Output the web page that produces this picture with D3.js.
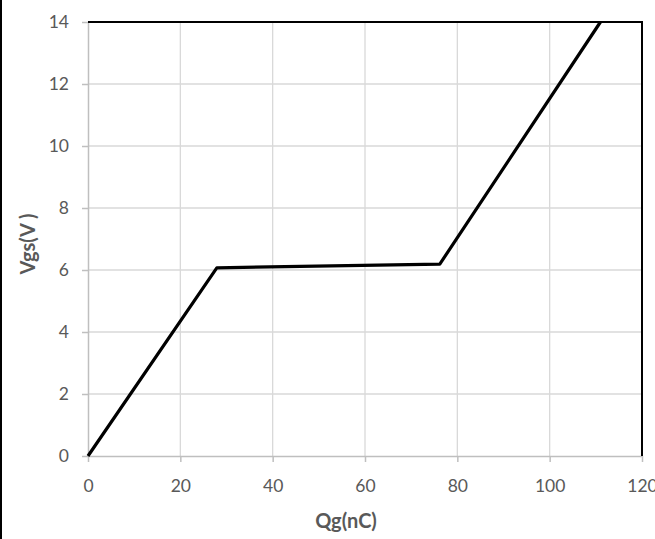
<!DOCTYPE html>
<html>
<head>
<meta charset="utf-8">
<script src="https://cdn.jsdelivr.net/npm/d3@7"></script>
<style>
  html, body { margin: 0; padding: 0; background: #fff; }
  svg { display: block; }
  text { font-family: Lato, "Open Sans", sans-serif; }
</style>
</head>
<body>
<svg id="chart" width="655" height="539"></svg>
<script>
// Gate charge curve: gate charge (nC) vs gate-source voltage (V)
const qg = [0, 27.9, 76.2, 111.0];
const vgs = [0, 6.07, 6.19, 14];
const xTicks = [0, 20, 40, 60, 80, 100, 120];
const yTicks = [0, 2, 4, 6, 8, 10, 12, 14];

const svg = d3.select("#chart");
const plotLeft = 88, plotRight = 642, plotTop = 22, plotBottom = 456;

const x = d3.scaleLinear().domain([0, 120]).range([plotLeft, plotRight]);
const y = d3.scaleLinear().domain([0, 14]).range([plotBottom, plotTop]);

// outer frame stroke on the left edge
svg.append("rect").attr("x", 0).attr("y", 0).attr("width", 2).attr("height", 539).attr("fill", "#000");

// gridlines
const grid = svg.append("g").attr("stroke", "#d9d9d9").attr("stroke-width", 1.3);
grid.selectAll("line.v").data(xTicks.slice(1)).join("line").attr("class", "v")
  .attr("x1", d => x(d)).attr("x2", d => x(d)).attr("y1", plotTop).attr("y2", plotBottom);
grid.selectAll("line.h").data(yTicks.slice(1)).join("line").attr("class", "h")
  .attr("x1", plotLeft).attr("x2", plotRight).attr("y1", d => y(d)).attr("y2", d => y(d));

// axes
const xAxis = svg.append("g").attr("transform", `translate(0,${plotBottom})`)
  .call(d3.axisBottom(x).tickValues(xTicks).tickSize(6).tickPadding(18).tickSizeOuter(0));
const yAxis = svg.append("g").attr("transform", `translate(${plotLeft},0)`)
  .call(d3.axisLeft(y).tickValues(yTicks).tickSize(6).tickPadding(13).tickSizeOuter(0));
[xAxis, yAxis].forEach(a => {
  a.select(".domain").attr("stroke", "#bfbfbf").attr("stroke-width", 1.5);
  a.selectAll(".tick line").attr("stroke", "#bfbfbf").attr("stroke-width", 1.5);
  a.selectAll(".tick text").attr("fill", "#595959").attr("font-size", 17.5)
    .attr("font-family", "Lato, 'Open Sans', sans-serif");
});

// top and right frame lines
svg.append("path")
  .attr("d", `M${plotLeft},${plotTop}H${plotRight}V${plotBottom}`)
  .attr("fill", "none").attr("stroke", "#000").attr("stroke-width", 2);

// curve
const line = d3.line().x((d, i) => x(qg[i])).y(d => y(d));
svg.append("path").datum(vgs)
  .attr("d", line)
  .attr("fill", "none").attr("stroke", "#000").attr("stroke-width", 3.2)
  .attr("stroke-linejoin", "round");

// axis titles
svg.append("text").attr("x", 346).attr("y", 528).attr("text-anchor", "middle")
  .attr("font-size", 20).attr("font-weight", "bold").attr("fill", "#595959").text("Qg(nC)");
svg.append("text").attr("transform", `translate(35,244) rotate(-90)`)
  .attr("text-anchor", "middle")
  .attr("font-size", 20).attr("font-weight", "bold").attr("fill", "#595959").text("Vgs(V )");
</script>
</body>
</html>
